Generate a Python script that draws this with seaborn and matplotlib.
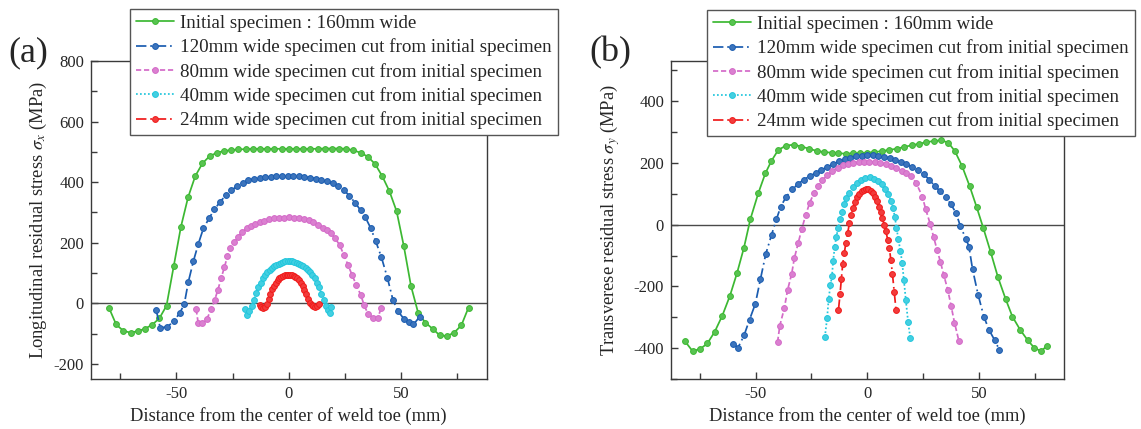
import matplotlib
matplotlib.use("Agg")
import matplotlib.pyplot as plt
import seaborn as sns
from matplotlib.ticker import MultipleLocator
from matplotlib import colors as mcolors

# ---------------- data: (a) longitudinal residual stress sigma_x ----------------
a160_x = [-80, -76.8, -73.6, -70.4, -67.2, -64, -60.8, -57.6, -54.4, -51.2, -48, -44.8,
          -41.6, -38.4, -35.2, -32, -28.8, -25.6, -22.4, -19.2, -16, -12.8, -9.6, -6.4,
          -3.2, 0, 3.2, 6.4, 9.6, 12.8, 16, 19.2, 22.4, 25.6, 28.8, 32, 35.2, 38.4, 41.6,
          44.8, 48, 51.2, 54.4, 57.6, 60.8, 64, 67.2, 70.4, 73.6, 76.8, 80]
a160_y = [-15, -70, -91, -97, -92, -84, -71, -50, -8, 122, 252, 350,
          420, 462, 486, 497, 503, 506, 508, 509, 510, 510, 510, 510,
          510, 510, 510, 510, 510, 510, 511, 511, 511, 510, 505, 497, 484, 460, 420,
          370, 304, 189, 57, -32, -64, -84, -106, -108, -97, -73, -14]

a120_x = [-59, -57.2, -54.1, -51.2, -48.5, -46.5, -44.7, -42.4, -40.2, -38, -35.5, -33.1,
          -30.5, -28, -25.5, -23, -20.5, -18, -15.5, -13, -10.5, -8, -5.5, -3, -0.5, 2,
          4.5, 7, 9.5, 12, 14.5, 17, 19.5, 22, 24.5, 27, 29.5, 32, 34, 36.5, 38.7, 41.2,
          43.9, 46.4, 48.6, 51.2, 53.5, 55.5, 58.2]
a120_y = [-22, -81, -78, -60, -32, -3, 70, 140, 197, 247, 280, 310,
          335, 357, 373, 387, 398, 406, 411, 414, 416, 418, 419, 420, 420, 420,
          419, 417, 415, 412, 408, 403, 396, 388, 374, 355, 332, 307, 285, 248, 205, 153,
          84, 10, -26, -51, -62, -70, -45]

a80_x = [-41.2, -40.3, -38.5, -36.4, -34.5, -33, -31.5, -30, -28.6, -27.3, -26, -24.3,
         -22.7, -20.8, -18.8, -16.8, -14.8, -12.8, -10.8, -8.7, -6.5, -4.3, -2.2, 0,
         2.2, 4.4, 6.6, 8.8, 11, 13.2, 15.2, 17, 18.7, 20.4, 22.6, 24.5, 26.4, 28.2,
         30.1, 32, 33.6, 35.3, 37.5, 39.7, 41.2]
a80_y = [-20, -65, -66, -51, -20, 10, 45, 85, 120, 155, 183, 203,
         219, 235, 247, 256, 263, 269, 273, 277, 280, 282, 283, 284,
         283, 282, 279, 275, 269, 260, 250, 242, 232, 217, 193, 160, 126, 93,
         60, 28, -7, -36, -47, -47, -14]

a40_x = [-19.5, -18.5, -17.5, -16.5, -15.5, -14.5, -13.5, -12.5, -11.5, -10.5, -9.5,
         -8.5, -7.5, -6.5, -5.5, -4.5, -3.5, -2.5, -1.5, -0.5, 0.5, 1.5, 2.5, 3.5, 4.5,
         5.5, 6.5, 7.5, 8.5, 9.5, 10.5, 11.5, 12.5, 13.5, 14.5, 15.5, 16.5, 17.5, 18.3,
         19]
a40_y = [-20, -38, -25, -8, 12, 34, 53, 68, 82, 93, 103,
         111, 117, 123, 127, 131, 134, 136, 138, 139, 139, 138, 136, 134, 131,
         127, 123, 117, 111, 103, 93, 82, 68, 53, 32, 10, -10, -22, -32,
         -12]

a24_x = [-13, -12.2, -11.4, -10.6, -9.8, -9, -8.2, -7.4, -6.6, -5.8, -5, -4.2, -3.4,
         -2.6, -1.8, -1, -0.2, 0.6, 1.4, 2.2, 3, 3.8, 4.6, 5.4, 6.2, 7, 7.8, 8.6, 9.4,
         10.2, 11, 11.8, 12.6, 13.4]
a24_y = [-5, -13, -15, -12, -4, 14, 30, 46, 58, 68, 76, 82, 87,
         90, 92, 93, 94, 94, 93, 91, 88, 83, 76, 67, 56, 44, 30, 15, 2,
         -6, -10, -11, -8, -3]

# ---------------- data: (b) transverse residual stress sigma_y ----------------
b160_x = [-81.8, -78.3, -74.8, -71.7, -68.4, -65, -61.6, -58.4, -55.3, -52.4, -48.8,
          -45.7, -43, -39.9, -36.4, -32.9, -29.5, -26.2, -22.7, -19.4, -15.9, -12.9,
          -9.6, -6.3, -3.2, 0, 3.2, 6.5, 9.8, 13.3, 16.7, 20, 23.2, 26.5, 29.8, 33,
          36.3, 39.3, 42.5, 45.9, 49, 52, 55.3, 58.6, 62.1, 65.1, 68.6, 71.9, 74.9, 78,
          80.6]
b160_y = [-377, -410, -402, -385, -347, -295, -231, -157, -75, 18, 103,
          166, 206, 242, 256, 259, 253, 246, 239, 235, 233, 231,
          230, 231, 232, 233, 235, 238, 242, 246, 252, 257, 262, 267, 271, 273,
          266, 238, 190, 125, 58, -10, -88, -170, -242, -298, -341, -374, -399, -410,
          -392]

b120_x = [-60.2, -57.9, -55.2, -52.8, -50.2, -47.9, -45.5, -42.9, -40.7, -38.8, -36.4,
          -33.6, -31, -28.4, -25.8, -23.2, -20.6, -17.9, -15.3, -12.7, -10.2, -7.6, -5,
          -2.5, 0, 2.5, 5, 7.5, 10, 12.5, 15, 17.5, 20.2, 22.8, 25.4, 27.9, 30.3, 32.7,
          35.2, 37.5, 39.8, 41.8, 44.2, 45.6, 47.2, 49.7, 52.3, 54.6, 57.2, 59.2]
b120_y = [-386, -398, -358, -308, -257, -177, -95, -33, 18, 58, 90,
          114, 132, 146, 157, 167, 177, 187, 196, 205, 212, 217, 221,
          223, 224, 224, 222, 219, 216, 210, 203, 196, 187, 177, 163, 145, 125, 108,
          89, 66, 38, -6, -45, -71, -144, -227, -298, -341, -375, -405]

b80_x = [-40.2, -39.2, -37.2, -35.7, -33.9, -32.7, -30.9, -29.4, -27.6, -25.8, -23.9,
         -22, -20.2, -17.9, -15.6, -13.3, -11, -8.6, -6.2, -3.8, -1.4, 1, 3.4, 5.8,
         8.2, 10.6, 13, 15.4, 17.5, 19.7, 22, 24.7, 26.2, 28.2, 29.8, 31.3, 32.8, 34.3,
         36.1, 37.6, 39.1, 41.1]
b80_y = [-380, -327, -271, -211, -160, -109, -58, -15, 31, 71, 102,
         125, 144, 160, 174, 185, 192, 197, 200, 202, 203, 203, 202, 200,
         196, 190, 183, 174, 166, 158, 134, 91, 50, 3, -41, -82, -120, -163,
         -211, -263, -317, -377]

b40_x = [-19, -18, -17.3, -16.5, -15.8, -15.3, -14.6, -13.9, -13, -12.1, -11.3, -10.3,
         -9.4, -8, -6.5, -4.8, -2.8, -0.8, 1.2, 3.2, 5, 6.6, 8, 9.4, 10.6, 11.6, 12.4,
         13.1, 13.9, 14.9, 15.7, 16.4, 17.3, 18.3, 19.3]
b40_y = [-364, -303, -240, -195, -166, -118, -73, -40, -10, 17, 42, 67,
         86, 104, 121, 134, 145, 152, 153, 149, 141, 130, 117, 100, 78, 53, 24,
         -10, -45, -87, -125, -178, -244, -314, -368]

b24_x = [-12.9, -12.2, -11.6, -11, -10.3, -9.6, -8.8, -8, -7.2, -6.5, -5.5, -4.5, -3.5,
         -2.5, -1.5, -0.5, 0.5, 1.5, 2.5, 3.4, 4.4, 5.2, 6, 6.8, 7.6, 8.4, 9.2, 9.9,
         10.6, 11.3, 12.1, 12.9]
b24_y = [-276, -225, -175, -128, -93, -60, -28, 4, 31, 53, 73, 88, 100,
         108, 113, 115, 114, 110, 102, 90, 75, 58, 40, 20, 0, -22, -50, -76,
         -115, -160, -218, -276]

series_labels = [
    "Initial specimen : 160mm wide",
    "120mm wide specimen cut from initial specimen",
    "80mm wide specimen cut from initial specimen",
    "40mm wide specimen cut from initial specimen",
    "24mm wide specimen cut from initial specimen",
]
series_colors = ["#3cb832", "#1a5cb0", "#d46ac8", "#22c6dc", "#f01a1a"]
series_styles = ["-", (0, (6, 2.2, 1, 2.2)), (0, (3, 1.6)), (0, (1, 1.3)), (0, (6, 2.2, 1, 2.2))]

# ---------------- styling ----------------
sns.set_theme(style="ticks")
plt.rcParams["font.family"] = ["Liberation Serif", "DejaVu Serif"]
plt.rcParams["mathtext.fontset"] = "stix"
plt.rcParams["axes.unicode_minus"] = False

W, H = 1141, 429
fig = plt.figure(figsize=(W / 100, H / 100), dpi=100)
ax_a = fig.add_axes([91 / W, 1 - 379 / H, 395.5 / W, 318 / H])
ax_b = fig.add_axes([671 / W, 1 - 379 / H, 392.5 / W, 318 / H])

spine_col = "#3a3a3a"


def lighter(c, f=0.15):
    r, g, b = mcolors.to_rgb(c)
    return (r + (1 - r) * f, g + (1 - g) * f, b + (1 - b) * f)


def draw_series(ax, xs, ys, color, ls):
    sns.lineplot(x=xs, y=ys, ax=ax, sort=False, estimator=None, color=color,
                 linestyle=ls, linewidth=1.25, marker="o", markersize=4.2,
                 markerfacecolor=lighter(color), markeredgecolor=color,
                 markeredgewidth=0.7)
    return ax.lines[-1]


def style_axes(ax, ylim, ylabel, ylabel_x):
    ax.axhline(0, color="#4a4a4a", linewidth=1.0, zorder=1)
    ax.set_xlim(-88, 88)
    ax.set_ylim(*ylim)
    ax.xaxis.set_major_locator(MultipleLocator(50))
    ax.xaxis.set_minor_locator(MultipleLocator(25))
    ax.yaxis.set_major_locator(MultipleLocator(200))
    ax.yaxis.set_minor_locator(MultipleLocator(100))
    ax.tick_params(which="both", direction="in", top=False, right=False,
                   color=spine_col, width=1.0, labelsize=12, pad=5)
    ax.tick_params(which="major", length=5)
    ax.tick_params(which="minor", length=4)
    for sp in ax.spines.values():
        sp.set_color(spine_col)
        sp.set_linewidth(1.0)
    ax.set_xlabel("Distance from the center of weld toe (mm)", fontsize=13.3, labelpad=4)
    ax.set_ylabel(ylabel, fontsize=13.3)
    ax.yaxis.set_label_coords(ylabel_x, 0.5)


def add_legend(ax, handles, left_px, top_px):
    leg = ax.legend(handles, series_labels, loc="upper left",
                    bbox_to_anchor=(left_px / W, 1 - top_px / H),
                    bbox_transform=fig.transFigure, fontsize=13.7, frameon=True,
                    fancybox=False, edgecolor="#555555", framealpha=1,
                    borderpad=0.3, labelspacing=0.34, handlelength=2.0,
                    handletextpad=0.35, borderaxespad=0, numpoints=1)
    leg.get_frame().set_linewidth(1.0)
    leg.set_zorder(10)


panel_a = [(a160_x, a160_y), (a120_x, a120_y), (a80_x, a80_y), (a40_x, a40_y), (a24_x, a24_y)]
panel_b = [(b160_x, b160_y), (b120_x, b120_y), (b80_x, b80_y), (b40_x, b40_y), (b24_x, b24_y)]

handles_a = [draw_series(ax_a, xs, ys, c, ls)
             for (xs, ys), c, ls in zip(panel_a, series_colors, series_styles)]
handles_b = [draw_series(ax_b, xs, ys, c, ls)
             for (xs, ys), c, ls in zip(panel_b, series_colors, series_styles)]

style_axes(ax_a, (-250, 800), r"Longitudinal residual stress $\sigma_x$ (MPa)", -0.105)
style_axes(ax_b, (-500, 530), r"Transverese residual stress $\sigma_y$ (MPa)", -0.125)

add_legend(ax_a, handles_a, 130, 9)
add_legend(ax_b, handles_b, 707, 10)

fig.text(28 / W, 1 - 53 / H, "(a)", fontsize=26, ha="center", va="center")
fig.text(610 / W, 1 - 53 / H, "(b)", fontsize=26, ha="center", va="center")

fig.savefig("out.png", dpi=100)
